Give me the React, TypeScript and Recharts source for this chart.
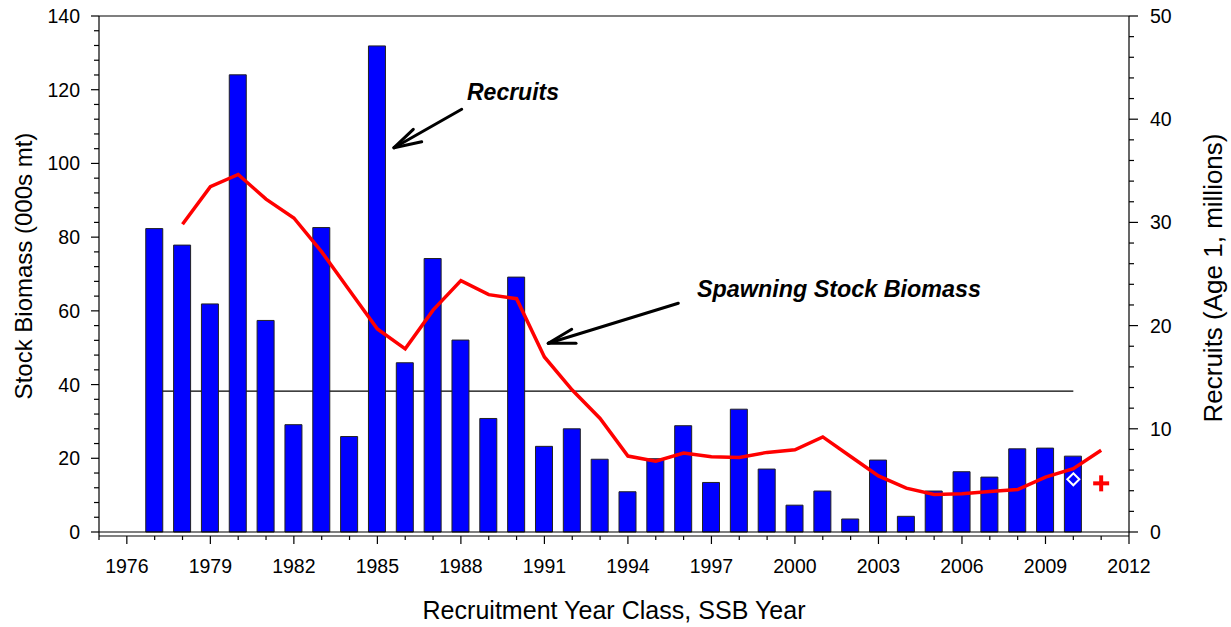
import React from 'react';
import {
  ComposedChart,
  Bar,
  Line,
  Scatter,
  XAxis,
  YAxis,
  ReferenceLine,
  Customized,
} from 'recharts';

// ---------- data ----------
const recruitYears = [
  1977, 1978, 1979, 1980, 1981, 1982, 1983, 1984, 1985, 1986, 1987, 1988,
  1989, 1990, 1991, 1992, 1993, 1994, 1995, 1996, 1997, 1998, 1999, 2000,
  2001, 2002, 2003, 2004, 2005, 2006, 2007, 2008, 2009, 2010,
];
// Recruits (Age 1, millions) – right axis
const recruits = [
  29.4, 27.8, 22.1, 44.3, 20.5, 10.4, 29.5, 9.25, 47.1, 16.4, 26.5, 18.6,
  11.0, 24.7, 8.3, 10.0, 7.05, 3.9, 7.1, 10.3, 4.8, 11.9, 6.1, 2.6,
  3.97, 1.26, 6.97, 1.52, 3.97, 5.84, 5.32, 8.06, 8.13, 7.35,
];

const ssbYears = [
  1978, 1979, 1980, 1981, 1982, 1983, 1984, 1985, 1986, 1987, 1988, 1989,
  1990, 1991, 1992, 1993, 1994, 1995, 1996, 1997, 1998, 1999, 2000, 2001,
  2002, 2003, 2004, 2005, 2006, 2007, 2008, 2009, 2010, 2011,
];
// Spawning Stock Biomass (000s mt) – left axis
const ssb = [
  83.5, 93.7, 97.0, 90.3, 85.2, 76.0, 65.5, 55.1, 49.7, 60.2, 68.2, 64.4,
  63.3, 47.5, 38.5, 30.8, 20.6, 19.2, 21.4, 20.4, 20.2, 21.6, 22.3, 25.8,
  20.5, 15.2, 11.9, 10.2, 10.4, 11.0, 11.5, 14.9, 17.2, 22.2,
];

const recruitEstimate = [{ year: 2010, value: 14.3 }];
const ssbProjection = [{ year: 2011, value: 13.2 }];

const referenceLevel = 38.2;
const referenceStart = 1977;
const referenceEnd = 2010;

const xTicks = [
  1975, 1976, 1977, 1978, 1979, 1980, 1981, 1982, 1983, 1984, 1985, 1986,
  1987, 1988, 1989, 1990, 1991, 1992, 1993, 1994, 1995, 1996, 1997, 1998,
  1999, 2000, 2001, 2002, 2003, 2004, 2005, 2006, 2007, 2008, 2009, 2010,
  2011, 2012,
];
const xLabelTicks = [1976, 1979, 1982, 1985, 1988, 1991, 1994, 1997, 2000, 2003, 2006, 2009, 2012];

const leftTicks = [
  0, 4, 8, 12, 16, 20, 24, 28, 32, 36, 40, 44, 48, 52, 56, 60, 64, 68, 72, 76,
  80, 84, 88, 92, 96, 100, 104, 108, 112, 116, 120, 124, 128, 132, 136, 140,
];
const leftLabelTicks = [0, 20, 40, 60, 80, 100, 120, 140];

const rightTicks = [
  0, 2, 4, 6, 8, 10, 12, 14, 16, 18, 20, 22, 24, 26, 28, 30, 32, 34, 36, 38,
  40, 42, 44, 46, 48, 50,
];
const rightLabelTicks = [0, 10, 20, 30, 40, 50];

// ---------- table ----------
const allYears = Array.from(new Set([...recruitYears, ...ssbYears])).sort((a, b) => a - b);
const rows = allYears.map((year) => {
  const ri = recruitYears.indexOf(year);
  const si = ssbYears.indexOf(year);
  return {
    year,
    recruits: ri >= 0 ? recruits[ri] : null,
    ssb: si >= 0 ? ssb[si] : null,
  };
});

const FONT = '"Liberation Sans", Arial, Helvetica, sans-serif';
const TICK_FS = 19.5;

const XTick = (props: any) => {
  const { x, y, payload } = props;
  const major = xLabelTicks.includes(payload.value);
  return (
    <g>
      <line x1={x} x2={x} y1={y} y2={y + (major ? 8 : 4)} stroke="#000" strokeWidth={1.2} />
      {major && (
        <text x={x} y={y + 37} textAnchor="middle" fontSize={TICK_FS} fontFamily={FONT} fill="#000">
          {payload.value}
        </text>
      )}
    </g>
  );
};

const LeftTick = (props: any) => {
  const { x, y, payload } = props;
  const major = leftLabelTicks.includes(payload.value);
  return (
    <g>
      <line x1={x} x2={x - (major ? 8 : 5)} y1={y} y2={y} stroke="#000" strokeWidth={1.2} />
      {major && (
        <text x={x - 19} y={y + 7} textAnchor="end" fontSize={TICK_FS} fontFamily={FONT} fill="#000">
          {payload.value}
        </text>
      )}
    </g>
  );
};

const RightTick = (props: any) => {
  const { x, y, payload } = props;
  const major = rightLabelTicks.includes(payload.value);
  return (
    <g>
      <line x1={x} x2={x + (major ? 9 : 5)} y1={y} y2={y} stroke="#000" strokeWidth={1.2} />
      {major && (
        <text x={x + 21} y={y + 7} textAnchor="start" fontSize={TICK_FS} fontFamily={FONT} fill="#000">
          {payload.value}
        </text>
      )}
    </g>
  );
};

const DiamondShape = (props: any) => {
  const { cx, cy } = props;
  const r = 6;
  return (
    <path
      d={`M${cx},${cy - r} L${cx + r},${cy} L${cx},${cy + r} L${cx - r},${cy} Z`}
      fill="none"
      stroke="#ffffff"
      strokeWidth={2}
    />
  );
};

const PlusShape = (props: any) => {
  const { cx, cy } = props;
  const r = 8;
  return (
    <g>
      <line x1={cx - r} x2={cx + r} y1={cy} y2={cy} stroke="#ff0000" strokeWidth={4} />
      <line x1={cx} x2={cx} y1={cy - r} y2={cy + r} stroke="#ff0000" strokeWidth={4} />
    </g>
  );
};

const Overlay = () => (
  <g fontFamily={FONT} fill="#000">
    {/* axis titles */}
    <text x={614} y={619} textAnchor="middle" fontSize={25} textLength={383} lengthAdjust="spacing">
      Recruitment Year Class, SSB Year
    </text>
    <text
      x={0}
      y={0}
      transform="translate(32,266) rotate(-90)"
      textAnchor="middle"
      fontSize={24}
    >
      Stock Biomass (000s mt)
    </text>
    <text
      x={0}
      y={0}
      transform="translate(1222,278) rotate(-90)"
      textAnchor="middle"
      fontSize={26}
    >
      Recruits (Age 1, millions)
    </text>

    {/* annotations */}
    <text x={467} y={100} fontSize={23.5} fontWeight="bold" fontStyle="italic" textLength={92} lengthAdjust="spacingAndGlyphs">
      Recruits
    </text>
    <g stroke="#000" strokeWidth={3} strokeLinecap="round" fill="none">
      <line x1={461.7} y1={109.3} x2={394} y2={147.7} />
      <line x1={394} y1={147.7} x2={413.3} y2={129.3} />
      <line x1={394} y1={147.7} x2={421.7} y2={141.7} />
    </g>
    <text x={697} y={297} fontSize={23.5} fontWeight="bold" fontStyle="italic" textLength={284} lengthAdjust="spacingAndGlyphs">
      Spawning Stock Biomass
    </text>
    <g stroke="#000" strokeWidth={3} strokeLinecap="round" fill="none">
      <line x1={678.3} y1={303.3} x2={548.3} y2={343.3} />
      <line x1={548.3} y1={343.3} x2={571.7} y2={329.3} />
      <line x1={548.3} y1={343.3} x2={576} y2={343.3} />
    </g>
  </g>
);

export default function App() {
  return (
    <div style={{ position: 'absolute', left: 0, top: 0, background: '#fff' }}>
      <ComposedChart
        width={1231}
        height={627}
        data={rows}
        margin={{ top: 16, right: 0, bottom: 0, left: 0 }}
      >
        <XAxis
          dataKey="year"
          type="number"
          domain={[1975, 2012]}
          ticks={xTicks}
          interval={0}
          allowDataOverflow
          axisLine={{ stroke: '#000', strokeWidth: 1.2 }}
          tickLine={false}
          tickSize={0}
          tickMargin={0}
          tick={<XTick />}
          height={91}
        />
        <YAxis
          yAxisId="left"
          orientation="left"
          type="number"
          domain={[-1.0853, 140]}
          ticks={leftTicks}
          interval={0}
          allowDataOverflow
          axisLine={{ stroke: '#000', strokeWidth: 1.2 }}
          tickLine={false}
          tickSize={0}
          tickMargin={0}
          tick={<LeftTick />}
          width={99}
        />
        <YAxis
          yAxisId="right"
          orientation="right"
          type="number"
          domain={[-0.3876, 50]}
          ticks={rightTicks}
          interval={0}
          allowDataOverflow
          axisLine={{ stroke: '#000', strokeWidth: 1.2 }}
          tickLine={false}
          tickSize={0}
          tickMargin={0}
          tick={<RightTick />}
          width={102}
        />
        <ReferenceLine yAxisId="left" y={140} stroke="#000" strokeWidth={1.2} />
        <ReferenceLine
          yAxisId="left"
          segment={[
            { x: referenceStart, y: referenceLevel },
            { x: referenceEnd, y: referenceLevel },
          ]}
          stroke="#000"
          strokeWidth={1.2}
          zIndex={250}
        />
        <Bar
          yAxisId="right"
          dataKey="recruits"
          fill="#0000ff"
          stroke="#222"
          strokeWidth={1}
          barSize={17}
          isAnimationActive={false}
        />
        <ReferenceLine yAxisId="left" y={0} stroke="#000" strokeWidth={1.2} />
        <Line
          yAxisId="left"
          dataKey="ssb"
          type="linear"
          stroke="#ff0000"
          strokeWidth={3.5}
          dot={false}
          activeDot={false}
          isAnimationActive={false}
        />
        <Scatter
          yAxisId="left"
          data={recruitEstimate}
          dataKey="value"
          shape={<DiamondShape />}
          isAnimationActive={false}
        />
        <Scatter
          yAxisId="left"
          data={ssbProjection}
          dataKey="value"
          shape={<PlusShape />}
          isAnimationActive={false}
        />
        <Customized component={Overlay} />
      </ComposedChart>
    </div>
  );
}
